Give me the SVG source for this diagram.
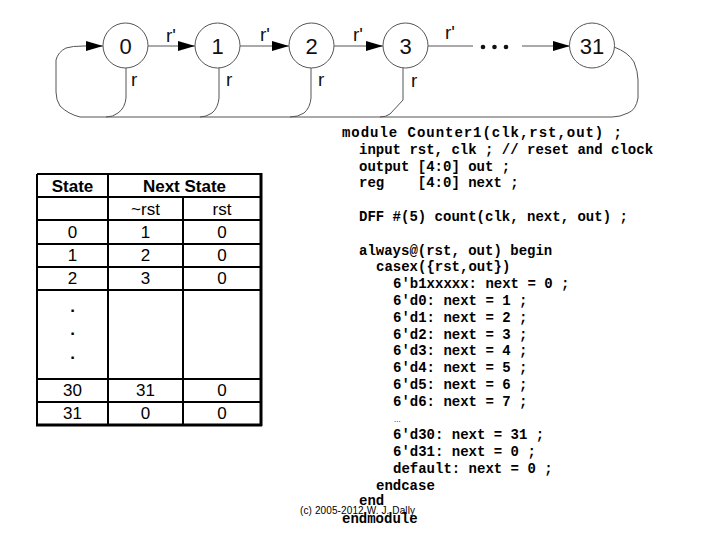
<svg xmlns="http://www.w3.org/2000/svg" width="720" height="540" viewBox="0 0 720 540">
<defs>
<marker id="arr" markerWidth="17" markerHeight="10" refX="17" refY="5" orient="auto" markerUnits="userSpaceOnUse">
<path d="M0,0 L17,5 L0,10 z" fill="#000"/>
</marker>
<style>
.st{fill:#fff;stroke:#555;stroke-width:1}
.nl{font-family:"Liberation Sans",Arial,sans-serif;font-size:22px;text-anchor:middle;fill:#111}
.el{font-family:"Liberation Sans",Arial,sans-serif;font-size:19px;fill:#111}
.cn{fill:none;stroke:#555;stroke-width:1}
.tl{stroke:#000;stroke-width:2;fill:none}
.tb{stroke:#000;stroke-width:3;fill:none}
.th{font-family:"Liberation Sans",Arial,sans-serif;font-size:17px;font-weight:bold;text-anchor:middle}
.td{font-family:"Liberation Sans",Arial,sans-serif;font-size:17px;text-anchor:middle}
.code{font-family:"Liberation Mono","Courier New",monospace;font-size:14px;font-weight:bold}
.small{font-family:"Liberation Sans",Arial,sans-serif;font-size:10px}
</style>
</defs>
<rect width="720" height="540" fill="#fff"/>

<g id="connectors">
<line class="cn" x1="148" y1="46" x2="195" y2="46" marker-end="url(#arr)"/>
<line class="cn" x1="240" y1="46" x2="289" y2="46" marker-end="url(#arr)"/>
<line class="cn" x1="334" y1="46" x2="383" y2="46" marker-end="url(#arr)"/>
<line class="cn" x1="428" y1="46" x2="473" y2="46"/>
<line class="cn" x1="522" y1="46" x2="570" y2="46" marker-end="url(#arr)"/>
<path class="cn" d="M614,47 Q628,52 634,62 Q638,72 638,80 L638,98 Q636,110 628,113 Q620,117 612,117 L80,117 Q68,114 60,106 Q56,100 56,92 L56,60 Q58,52 66,48 Q72,46 84,46 L103,46" marker-end="url(#arr)"/>
<path class="cn" d="M126,68 L126,98 Q125,108 118,113 Q113,117 106,117"/>
<path class="cn" d="M219,68 L219,98 Q218,108 212,113 Q206,117 200,117"/>
<path class="cn" d="M311,68 L311,98 Q310,108 304,113 Q298,117 290,117"/>
<path class="cn" d="M403,68 L403,100 L390,114 Q386,117 380,117"/>
<text class="el" x="166" y="42">r'</text>
<text class="el" x="260" y="41">r'</text>
<text class="el" x="353" y="41">r'</text>
<text class="el" x="445" y="39">r'</text>
<text class="el" x="131" y="86">r</text>
<text class="el" x="226" y="86">r</text>
<text class="el" x="318" y="86">r</text>
<text class="el" x="411" y="87">r</text>
<circle cx="483" cy="47" r="2.3" fill="#111"/>
<circle cx="494.5" cy="47" r="2.3" fill="#111"/>
<circle cx="506" cy="47" r="2.3" fill="#111"/>
</g>

<g id="s0"><circle class="st" cx="125.5" cy="45.5" r="22.5"/><text class="nl" x="125.5" y="53.5">0</text></g>
<g id="s1"><circle class="st" cx="217.5" cy="45.5" r="22.5"/><text class="nl" x="217.5" y="53.5">1</text></g>
<g id="s2"><circle class="st" cx="311.5" cy="45.5" r="22.5"/><text class="nl" x="311.5" y="53.5">2</text></g>
<g id="s3"><circle class="st" cx="405.5" cy="45.5" r="22.5"/><text class="nl" x="405.5" y="53.5">3</text></g>
<g id="s31"><circle class="st" cx="592" cy="45.5" r="22.5"/><text class="nl" x="592" y="53.5">31</text></g>

<g id="table">
<line class="tl" x1="37" y1="174" x2="261" y2="174"/>
<line class="tl" x1="37" y1="174" x2="37" y2="425"/>
<line class="tb" x1="261" y1="173" x2="261" y2="426"/>
<line class="tb" x1="36" y1="425" x2="262" y2="425"/>
<line class="tl" x1="108" y1="174" x2="108" y2="425"/>
<line class="tl" x1="183" y1="197" x2="183" y2="425"/>
<line class="tl" x1="37" y1="197" x2="261" y2="197"/>
<line class="tl" x1="37" y1="220" x2="261" y2="220"/>
<line class="tl" x1="37" y1="244" x2="261" y2="244"/>
<line class="tl" x1="37" y1="267" x2="261" y2="267"/>
<line class="tl" x1="37" y1="290" x2="261" y2="290"/>
<line class="tl" x1="37" y1="379" x2="261" y2="379"/>
<line class="tl" x1="37" y1="402" x2="261" y2="402"/>
<text class="th" x="72.5" y="192">State</text>
<text class="th" x="184.5" y="192">Next State</text>
<text class="td" x="145.5" y="215">~rst</text>
<text class="td" x="222" y="215">rst</text>
<text class="td" x="72.5" y="238">0</text><text class="td" x="145.5" y="238">1</text><text class="td" x="222" y="238">0</text>
<text class="td" x="72.5" y="261">1</text><text class="td" x="145.5" y="261">2</text><text class="td" x="222" y="261">0</text>
<text class="td" x="72.5" y="284">2</text><text class="td" x="145.5" y="284">3</text><text class="td" x="222" y="284">0</text>
<text class="th" x="72.5" y="312">.</text>
<text class="th" x="72.5" y="335">.</text>
<text class="th" x="72.5" y="359">.</text>
<text class="td" x="72.5" y="396">30</text><text class="td" x="145.5" y="396">31</text><text class="td" x="222" y="396">0</text>
<text class="td" x="72.5" y="419">31</text><text class="td" x="145.5" y="419">0</text><text class="td" x="222" y="419">0</text>
</g>

<g id="code" class="code">
<text x="342" y="137" textLength="280">module Counter1(clk,rst,out) ;</text>
<text x="359" y="154">input rst, clk ; // reset and clock</text>
<text x="359" y="171">output [4:0] out ;</text>
<text x="359" y="187" xml:space="preserve">reg    [4:0] next ;</text>
<text x="359" y="221">DFF #(5) count(clk, next, out) ;</text>
<text x="359" y="255">always@(rst, out) begin</text>
<text x="376" y="271">casex({rst,out})</text>
<text x="393" y="288">6'b1xxxxx: next = 0 ;</text>
<text x="393" y="305">6'd0: next = 1 ;</text>
<text x="393" y="322">6'd1: next = 2 ;</text>
<text x="393" y="339">6'd2: next = 3 ;</text>
<text x="393" y="355">6'd3: next = 4 ;</text>
<text x="393" y="372">6'd4: next = 5 ;</text>
<text x="393" y="389">6'd5: next = 6 ;</text>
<text x="393" y="406">6'd6: next = 7 ;</text>
<text x="394" y="422" style="font-size:8px;font-weight:normal;font-family:'Liberation Sans',Arial,sans-serif">...</text>
<text x="393" y="439">6'd30: next = 31 ;</text>
<text x="393" y="456">6'd31: next = 0 ;</text>
<text x="393" y="473">default: next = 0 ;</text>
<text x="376" y="490">endcase</text>
<text x="359" y="505">end</text>
<text x="342" y="523">endmodule</text>
</g>
<text class="small" x="300" y="514" textLength="115">(c) 2005-2012 W. J. Dally</text>
</svg>
